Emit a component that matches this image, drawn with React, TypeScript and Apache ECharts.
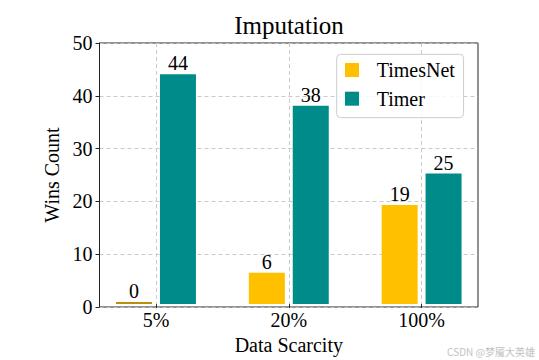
import React, { useEffect, useRef } from 'react';
import * as echarts from 'echarts';

const categories = ['5%', '20%', '100%'];
const timesNetWins = [0, 6, 19];
const timerWins = [44, 38, 25];
const seriesNames = ['TimesNet', 'Timer'];
const yMin = 0;
const yMax = 50;
const yStep = 10;
const titleText = 'Imputation';
const xName = 'Data Scarcity';
const yName = 'Wins Count';
const watermark = 'CSDN @梦魇大英雄';

const FONT = "'Times New Roman', 'Liberation Serif', serif";

export default function App() {
  const ref = useRef<HTMLDivElement>(null);
  useEffect(() => {
    document.body.style.margin = '0';
    const chart = echarts.init(ref.current as HTMLDivElement, null, { renderer: 'svg' });
    const band = 132.8;
    const firstCenter = 156;
    const dash = { type: [4, 3], color: '#c4c4c4', width: 0.9 };
    const axisColor = '#222';
    const labelStyle = { show: true, position: 'top', distance: 1, fontFamily: FONT, fontSize: 20, color: '#000' };
    chart.setOption({
      animation: false,
      title: {
        text: titleText,
        left: 289,
        top: 13,
        textAlign: 'center',
        padding: 0,
        textStyle: { fontFamily: FONT, fontSize: 25, fontWeight: 'normal', color: '#000' },
      },
      legend: {
        orient: 'vertical',
        left: 336.7,
        top: 54.3,
        itemWidth: 14,
        itemHeight: 14,
        itemGap: 8.7,
        padding: [5.7, 8.7, 9, 8.3],
        borderColor: '#cccccc',
        borderWidth: 1,
        borderRadius: 4,
        backgroundColor: 'rgba(255,255,255,0.85)',
        icon: 'rect',
        textStyle: { fontFamily: FONT, fontSize: 20, color: '#000', lineHeight: 20, padding: [0, 0, 0, 12.7] },
        data: seriesNames,
        z: 10,
      },
      grid: [
        { left: firstCenter - band / 2, top: 43, width: band * 3, height: 264 },
        {
          left: 99.5,
          top: 43,
          width: 378.5,
          height: 264,
          show: true,
          borderColor: axisColor,
          borderWidth: 1,
          backgroundColor: 'transparent',
        },
      ],
      xAxis: [
        {
          type: 'category',
          gridIndex: 0,
          data: categories,
          axisLine: { show: false },
          axisTick: { show: true, alignWithLabel: true, length: 4, inside: false, lineStyle: { color: axisColor } },
          axisLabel: { fontFamily: FONT, fontSize: 20, color: '#000', margin: 6, interval: 0 },
          splitLine: { show: true, alignWithLabel: true, interval: 0, lineStyle: dash },
          name: xName,
          nameLocation: 'middle',
          nameGap: 29,
          nameTextStyle: { fontFamily: FONT, fontSize: 20, color: '#000' },
        },
        { type: 'value', gridIndex: 1, show: false, min: 0, max: 1 },
      ],
      yAxis: [
        { type: 'value', gridIndex: 0, min: yMin, max: yMax, interval: yStep, show: false },
        {
          type: 'value',
          gridIndex: 1,
          min: yMin,
          max: yMax,
          interval: yStep,
          axisLine: { show: true, lineStyle: { color: axisColor } },
          axisTick: { show: true, length: 4, lineStyle: { color: axisColor } },
          axisLabel: { fontFamily: FONT, fontSize: 20, color: '#000', margin: 7 },
          splitLine: { show: true, lineStyle: dash },
          name: yName,
          nameLocation: 'middle',
          nameGap: 32,
          nameTextStyle: { fontFamily: FONT, fontSize: 20, color: '#000' },
        },
      ],
      series: [
        {
          name: seriesNames[0],
          type: 'bar',
          xAxisIndex: 0,
          yAxisIndex: 0,
          data: timesNetWins.map((v) => (v === 0 ? { value: v, itemStyle: { color: '#b8900a' } } : v)),
          barWidth: 36,
          barGap: '22%',
          barMinHeight: 2,
          itemStyle: { color: '#FFC000' },
          label: labelStyle,
        },
        {
          name: seriesNames[1],
          type: 'bar',
          xAxisIndex: 0,
          yAxisIndex: 0,
          data: timerWins,
          barWidth: 36,
          barGap: '22%',
          itemStyle: { color: '#008B8B' },
          label: labelStyle,
        },
      ],
      graphic: [
        {
          type: 'text',
          x: 535,
          y: 351.5,
          style: {
            text: watermark,
            fill: '#c2c2c2',
            font: '10px "Noto Sans CJK SC", sans-serif',
            textAlign: 'right',
            textVerticalAlign: 'middle',
          },
        },
      ],
    });
    return () => chart.dispose();
  }, []);
  return <div ref={ref} style={{ position: 'absolute', left: 0, top: 0, width: 539, height: 360 }} />;
}
